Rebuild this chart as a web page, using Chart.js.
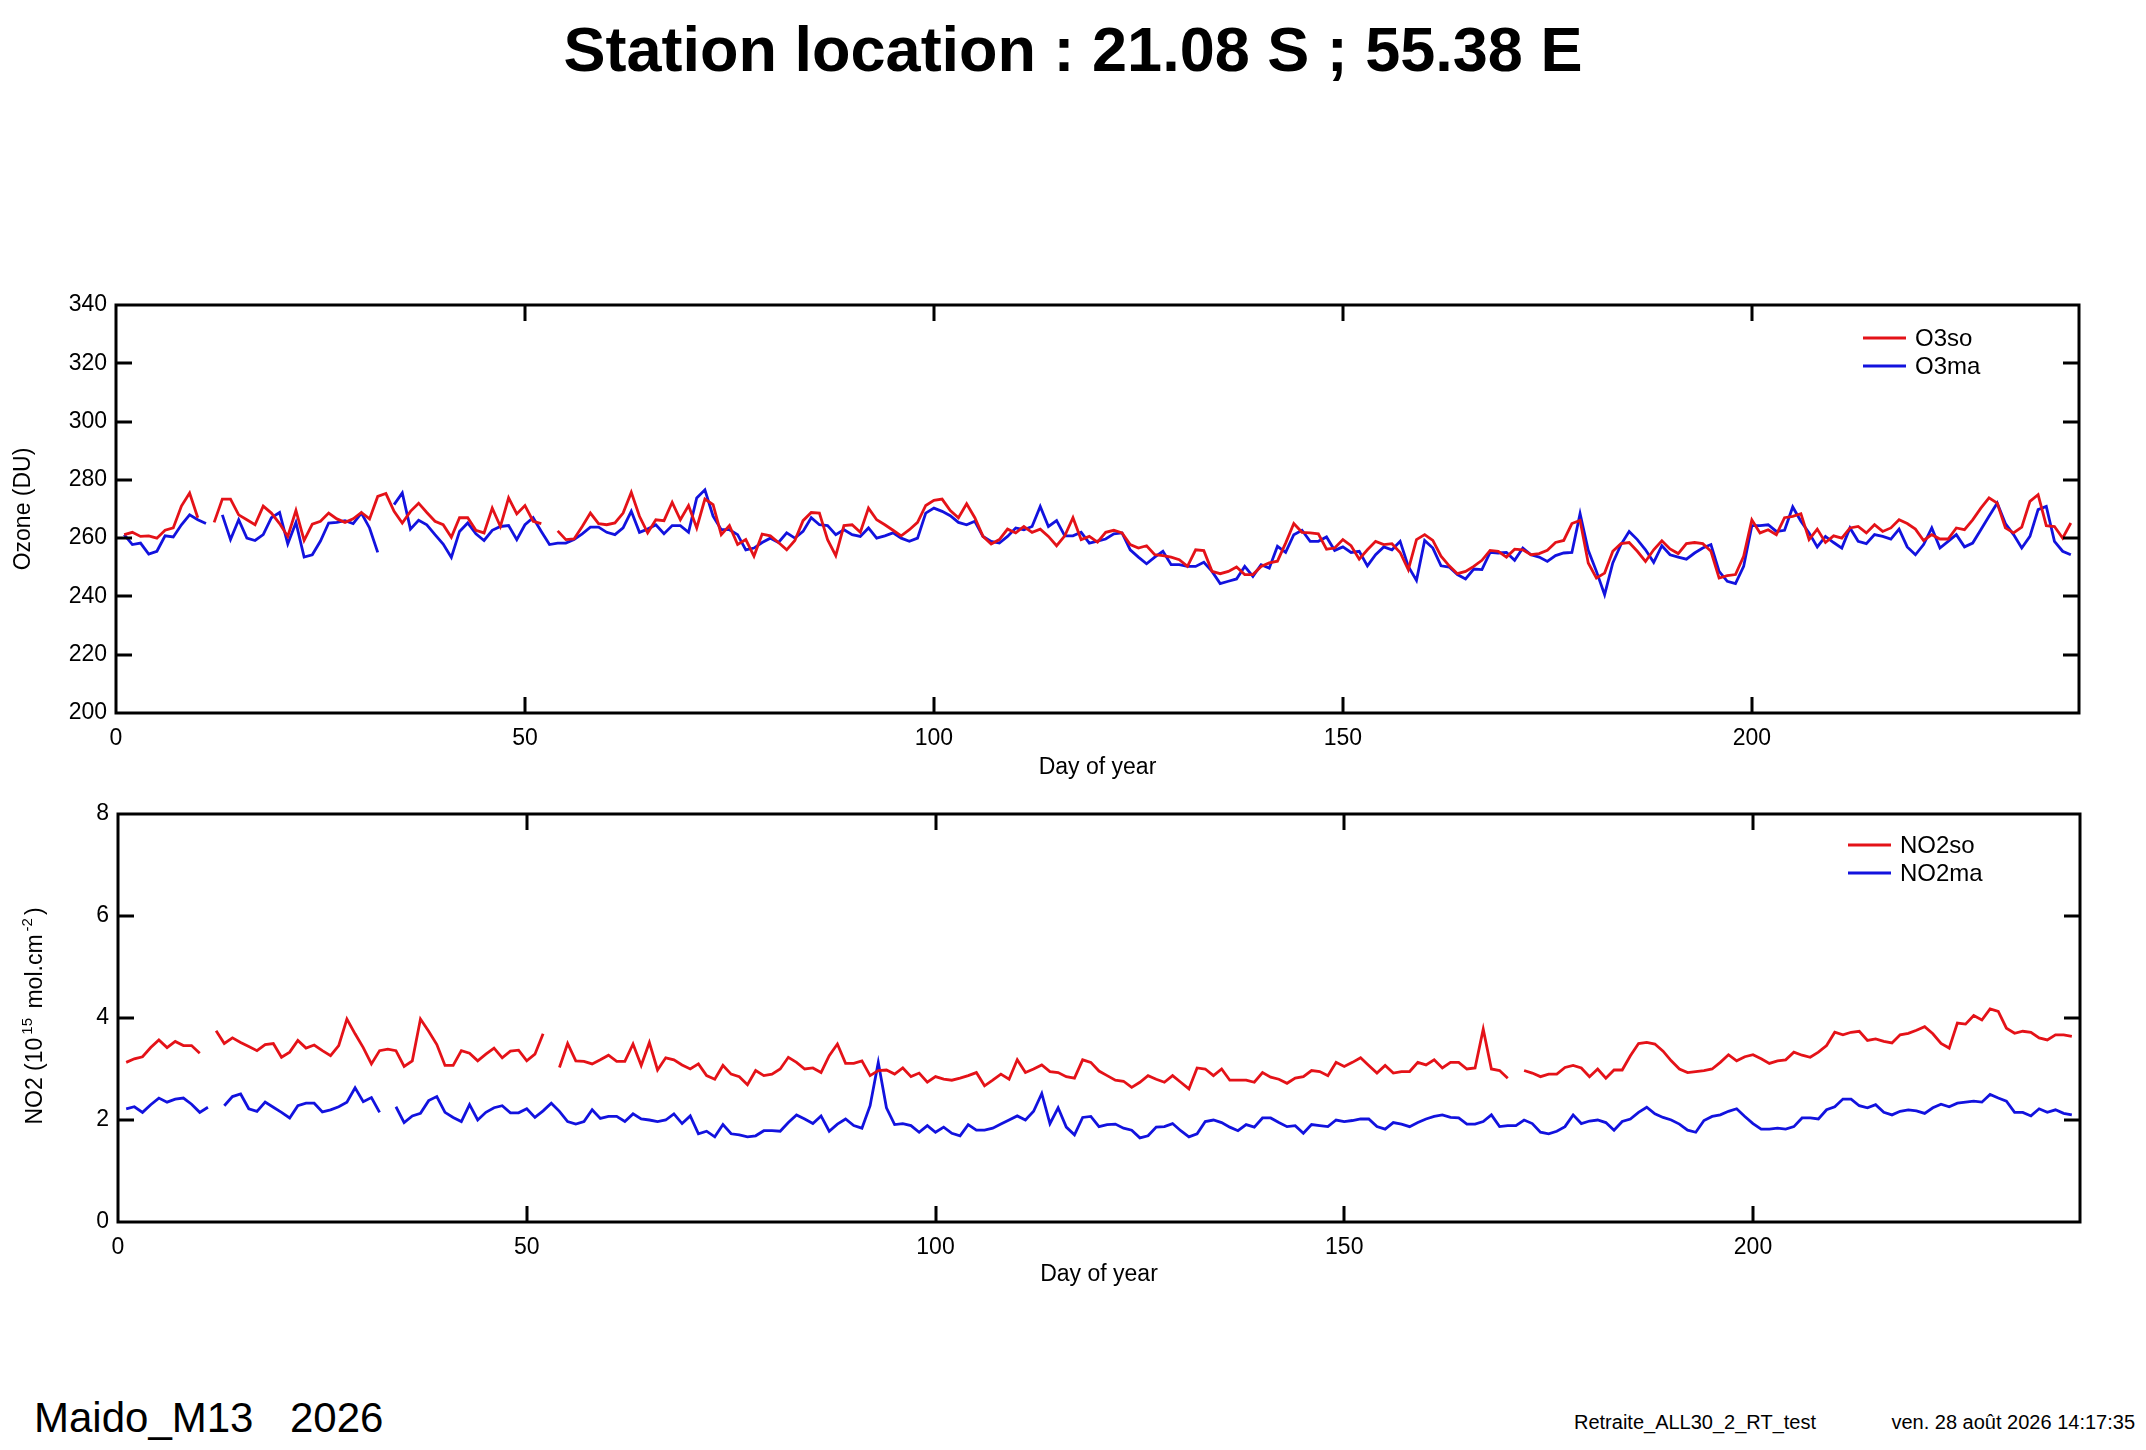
<!doctype html>
<html>
<head>
<meta charset="utf-8">
<script src="https://cdn.jsdelivr.net/npm/chart.js@4.4.0/dist/chart.umd.min.js"></script>
<style>
  body { margin:0; width:2146px; height:1450px; position:relative; background:#fff; overflow:hidden;
         font-family:"Liberation Sans", Arial, sans-serif; color:#000; }
  #title { position:absolute; left:0; top:17px; width:2146px; text-align:center; font-weight:bold;
           font-size:63px; line-height:64px; }
  canvas { position:absolute; left:0; }
  #c1 { top:280px; }
  #c2 { top:787px; }
  #no2lab { position:absolute; left:-166px; top:1002px; width:400px; height:28px; line-height:28px;
            text-align:center; font-size:23px; transform:rotate(-90deg); white-space:nowrap; }
  #no2lab sup { font-size:15px; vertical-align:10px; line-height:0; margin:0 3px; }
  .foot { position:absolute; white-space:nowrap; }
</style>
<script>
  // x values: day of year
  let days = [];
  for (let d = 1; d <= 239; d++) days.push(d);

  // total ozone (DU), null = no measurement
  let o3so = [
    261.2,262,260.6,260.8,260,262.7,263.5,271,275.5,267, null,265.4,273.4,273.4,268,266.3,264.6,271,268.6,265,
    260.6,269.5,259.2,264.8,265.8,268.6,266.6,265.4,266.6,268.8, 266.6,274.3,275.3,269.2,265.2,269.2,272,268.8,265.8,264.6,
    260.3,267,267,262.7,261.8,270.3,264,273.8,268.3,271.2, 265.8,265,null,262.5,259.5,259.7,264,268.6,265,264.6,
    265.2,268.6,275.7,267.5,261.8,266.3,266,272.3,266.3,271.2, 263.5,273.4,271.5,261.2,264.3,257.8,259.5,253.8,261.4,260.8,
    258.5,256,259.2,266,268.8,268.6,259.5,254,264.3,264.6, 262,270.3,266.3,264.6,262.7,260.8,262.9,265.4,271.2,273,
    273.4,269.5,267,271.8,267,260.6,258,259.5,263.1,261.8, 264,262,263.1,260.6,257.4,260.8,267,259.5,260.6,258.6,
    262,262.7,261.8,257.8,256.6,257.4,254.3,254,253.5,252.6, 250.3,256,255.7,248.6,247.8,248.6,250.1,247.5,247.5,250.3,
    251.5,252.1,258.3,265,262,261.8,261.5,256.2,256.6,259.5, 257.4,252.8,256,258.9,257.8,258.1,255.1,249.2,259.5,261.2,
    259.2,253.8,250.5,247.8,248.6,250.3,252.4,255.8,255.5,253.5, 256.2,256,254.3,254.7,255.8,258.5,259.2,265,266.1,251.5,
    246.3,248,255.5,258.1,258.5,255.5,252,256,259.1,256.3, 254.7,258.1,258.5,258.1,255.5,246.3,247.1,247.5,253.8,266.3,
    261.8,262.9,261.2,267,267.5,268.4,259.5,263.1,258.5,260.8, 260,263.5,264,261.8,264.6,262.3,263.5,266.3,265,263.1,
    259.2,261.2,259.7,259.7,263.5,262.9,266.3,270.3,273.8,272, 263.5,261.8,263.8,272.6,274.9,264.3,264,260,265.2
  ];
  let o3ma = [
    261.2,257.8,258.3,254.5,255.5,260.8,260.4,264.6,268,266.3, 265,null,268,259.5,266.3,260,259.2,261.2,267,268.8,
    258,265.4,253.5,254.3,259,265.2,265.4,266,265,268.6, 263.5,255.1,null,271.5,275.5,263.1,266.1,264.6,261.2,258,
    253.4,262.3,265.2,261.5,259.2,262.7,264,264.3,259.5,264.6, 267,262.3,257.8,258.3,258.3,259.5,261.5,263.8,263.8,262,
    261.2,263.5,269.2,262,263.1,264.6,261.5,264.3,264.3,262, 273.8,276.6,267.5,262.9,262.9,261.2,256,256.6,258.5,260,
    258.5,261.8,260,262.3,267,264.6,264.3,261.2,262.9,261.2, 260.6,263.5,260,260.8,261.8,260,258.9,260,268.6,270.3,
    269.2,267.7,265.4,264.6,265.8,260.6,258.9,258.3,260.6,263.5, 262.9,264,270.9,264,266,260.8,260.8,262,258.3,259,
    259.7,261.5,261.8,256,253.5,251.2,253.5,255.5,250.9,250.9, 250.3,250.3,251.7,248.6,244.4,245.2,246,250.3,246.9,250.9,
    249.7,257.2,255.1,261.2,262.7,258.9,258.9,260.4,255.8,257, 255.1,255.5,250.5,254.3,257,256,258.9,250.3,245.5,259.2,
    256.6,250.5,250.1,247.5,246,249.4,249.2,255.1,254.9,255.1, 252.4,256.6,254.3,253.5,252,254,254.9,255.1,268.4,255.8,
    248.6,240.6,251.5,257.8,262.3,259.5,256,251.7,257.4,254.3, 253.5,252.8,254.9,256.6,257.8,248.6,245.2,244.4,250.3,264.3,
    264.3,264.6,262.3,262.7,270.7,265.8,261.8,257,260.6,258.5, 256.6,263.5,258.9,258.1,261.2,260.6,259.7,263.1,257,254.3,
    257.8,263.5,256.6,258.9,261.2,257,258.3,262.9,267.5,272, 265,261.2,256.6,260.6,269.8,270.9,258.9,255.5,254.3
  ];

  // NO2 column (10^15 mol.cm-2)
  let no2so = [
    3.13,3.20,3.24,3.42,3.57,3.42,3.54,3.46,3.46,3.31, null,3.75,3.50,3.61,3.52,3.44,3.36,3.48,3.50,3.23,
    3.33,3.56,3.41,3.47,3.36,3.26,3.46,3.98,3.69,3.42, 3.10,3.36,3.39,3.36,3.05,3.16,3.98,3.74,3.48,3.07,
    3.07,3.36,3.31,3.16,3.29,3.41,3.22,3.35,3.37,3.16, 3.29,3.69,null,3.03,3.50,3.16,3.15,3.10,3.18,3.27,
    3.15,3.15,3.49,3.07,3.52,2.98,3.22,3.18,3.08,3.00, 3.10,2.87,2.80,3.07,2.90,2.85,2.69,2.97,2.87,2.90,
    3.00,3.23,3.13,3.00,3.02,2.93,3.26,3.49,3.11,3.11, 3.16,2.87,2.97,2.98,2.90,3.02,2.85,2.92,2.74,2.85,
    2.80,2.78,2.82,2.87,2.93,2.67,2.78,2.90,2.80,3.18, 2.93,3.00,3.08,2.95,2.93,2.85,2.82,3.18,3.13,2.96,
    2.87,2.78,2.76,2.64,2.74,2.87,2.80,2.74,2.87,2.74, 2.61,3.02,3.00,2.87,3.00,2.78,2.78,2.78,2.74,2.93,
    2.84,2.80,2.72,2.82,2.85,2.97,2.95,2.87,3.13,3.05, 3.13,3.22,3.07,2.92,3.07,2.92,2.95,2.95,3.13,3.08,
    3.18,3.02,3.13,3.13,3.00,3.02,3.78,3.00,2.97,2.82, null,2.97,2.92,2.85,2.90,2.90,3.03,3.07,3.02,2.85,
    3.00,2.82,2.98,2.98,3.26,3.50,3.52,3.49,3.35,3.16, 3.00,2.93,2.95,2.97,3.00,3.13,3.28,3.16,3.24,3.28,
    3.20,3.11,3.16,3.18,3.33,3.27,3.23,3.33,3.46,3.72, 3.67,3.72,3.74,3.56,3.59,3.54,3.51,3.67,3.70,3.76,
    3.83,3.69,3.50,3.41,3.90,3.88,4.05,3.96,4.18,4.13, 3.80,3.70,3.74,3.72,3.61,3.57,3.67,3.67,3.64
  ];
  let no2ma = [
    2.22,2.26,2.15,2.30,2.43,2.35,2.41,2.43,2.31,2.15, 2.25,null,2.28,2.46,2.51,2.22,2.17,2.35,2.25,2.15,
    2.04,2.28,2.33,2.33,2.16,2.20,2.26,2.35,2.63,2.36, 2.44,2.15,null,2.26,1.95,2.08,2.13,2.38,2.46,2.15,
    2.05,1.97,2.30,2.00,2.15,2.24,2.28,2.14,2.14,2.22, 2.05,2.18,2.33,2.17,1.97,1.92,1.97,2.20,2.03,2.07,
    2.07,1.97,2.12,2.02,2.00,1.97,2.00,2.12,1.93,2.08, 1.73,1.78,1.67,1.91,1.73,1.71,1.67,1.69,1.79,1.79,
    1.78,1.95,2.10,2.02,1.93,2.08,1.78,1.92,2.02,1.89, 1.84,2.28,3.13,2.24,1.91,1.93,1.89,1.76,1.89,1.76,
    1.86,1.74,1.69,1.91,1.80,1.80,1.84,1.92,2.00,2.08, 2.00,2.17,2.52,1.93,2.24,1.86,1.71,2.05,2.07,1.87,
    1.91,1.92,1.84,1.80,1.65,1.69,1.86,1.87,1.93,1.79, 1.67,1.73,1.97,2.00,1.95,1.86,1.79,1.91,1.86,2.04,
    2.04,1.95,1.87,1.89,1.74,1.91,1.89,1.87,2.00,1.97, 1.99,2.02,2.02,1.87,1.82,1.95,1.92,1.87,1.95,2.02,
    2.07,2.10,2.05,2.04,1.92,1.92,1.97,2.10,1.87,1.89, 1.89,2.00,1.93,1.76,1.73,1.78,1.87,2.10,1.93,1.98,
    2.00,1.95,1.80,1.97,2.02,2.15,2.25,2.12,2.05,2.00, 1.92,1.80,1.76,1.99,2.07,2.10,2.17,2.22,2.07,1.93,
    1.82,1.82,1.84,1.82,1.87,2.04,2.04,2.02,2.20,2.26, 2.41,2.41,2.28,2.24,2.30,2.15,2.10,2.17,2.20,2.18,
    2.13,2.24,2.31,2.26,2.33,2.35,2.37,2.35,2.50,2.43, 2.37,2.15,2.15,2.08,2.22,2.15,2.20,2.13,2.10
  ];

  let redLine = 'rgb(228,18,24)';
  let blueLine = 'rgb(18,18,222)';

  // black frame with inward ticks on all four sides + small legend top right
  let framePlugin = {
    id: 'frame',
    afterDatasetsDraw(chart, args, opts) {
      let ctx = chart.ctx, a = chart.chartArea;
      let xs = chart.scales.x, ys = chart.scales.y;
      ctx.save();
      ctx.strokeStyle = '#000';
      ctx.lineWidth = 3;
      ctx.strokeRect(a.left, a.top, a.right - a.left, a.bottom - a.top);
      ctx.beginPath();
      xs.ticks.forEach(t => {
        if (t.value <= xs.min || t.value >= xs.max) return;
        let px = Math.round(xs.getPixelForValue(t.value));
        ctx.moveTo(px, a.top); ctx.lineTo(px, a.top + 16);
        ctx.moveTo(px, a.bottom); ctx.lineTo(px, a.bottom - 16);
      });
      ys.ticks.forEach(t => {
        if (t.value <= ys.min || t.value >= ys.max) return;
        let py = Math.round(ys.getPixelForValue(t.value));
        ctx.moveTo(a.left, py); ctx.lineTo(a.left + 16, py);
        ctx.moveTo(a.right, py); ctx.lineTo(a.right - 16, py);
      });
      ctx.stroke();

      ctx.font = '24px "Liberation Sans", Arial, sans-serif';
      ctx.textBaseline = 'middle';
      ctx.textAlign = 'left';
      chart.data.datasets.forEach((ds, i) => {
        let y = a.top + opts.top + i * 28;
        let x0 = a.right - opts.right;
        ctx.strokeStyle = ds.borderColor;
        ctx.lineWidth = 3;
        ctx.beginPath(); ctx.moveTo(x0, y); ctx.lineTo(x0 + 43, y); ctx.stroke();
        ctx.fillStyle = '#000';
        ctx.fillText(ds.label, x0 + 52, y + 1);
      });
      ctx.restore();
    }
  };

  function makeChart(id, o) {
    return new Chart(document.getElementById(id), {
      type: 'line',
      data: {
        labels: days,
        datasets: [
          { label: o.names[0], data: o.red, borderColor: redLine, borderWidth: 2.8, pointRadius: 0, tension: 0, spanGaps: false },
          { label: o.names[1], data: o.blue, borderColor: blueLine, borderWidth: 2.8, pointRadius: 0, tension: 0, spanGaps: false }
        ]
      },
      options: {
        responsive: false,
        animation: false,
        devicePixelRatio: 1,
        layout: { padding: { left: 0, right: o.padRight, top: o.padTop, bottom: 0 } },
        plugins: { legend: { display: false }, tooltip: { enabled: false }, frame: { top: o.legTop, right: o.legRight } },
        scales: {
          x: {
            type: 'linear', min: 0, max: 240,
            afterBuildTicks: s => { s.ticks = s.ticks.filter(t => t.value % 50 == 0); },
            afterFit: s => { s.height = o.xHeight; },
            grid: { display: false, drawTicks: false },
            border: { display: false },
            ticks: { stepSize: 50, padding: 12, autoSkip: false, maxRotation: 0, color: '#000',
                     font: { size: 23 } },
            title: { display: true, text: 'Day of year', color: '#000', font: { size: 23 },
                     padding: { top: 0, bottom: 19 } }
          },
          y: {
            min: o.ymin, max: o.ymax,
            afterFit: s => { s.width = o.yWidth; },
            grid: { display: false, drawTicks: false },
            border: { display: false },
            ticks: { stepSize: o.ystep, padding: 9, color: '#000', font: { size: 23 } },
            title: { display: o.ytitle != '', text: o.ytitle, color: '#000', font: { size: 23 },
                     padding: { top: 10, bottom: 0 } }
          }
        }
      },
      plugins: [framePlugin]
    });
  }

  function startPage() {
    Chart.defaults.font.family = '"Liberation Sans", Arial, sans-serif';
    Chart.defaults.color = '#000';
    makeChart('c1', { names: ['O3so', 'O3ma'], red: o3so, blue: o3ma,
      ymin: 200, ymax: 340, ystep: 20, ytitle: 'Ozone (DU)',
      padTop: 25, padRight: 67, xHeight: 87, yWidth: 116, legTop: 33, legRight: 216 });
    makeChart('c2', { names: ['NO2so', 'NO2ma'], red: no2so, blue: no2ma,
      ymin: 0, ymax: 8, ystep: 2, ytitle: '',
      padTop: 27, padRight: 66, xHeight: 85, yWidth: 118, legTop: 31, legRight: 232 });
  }
</script>
</head>
<body onload="startPage()">
  <div id="title">Station location : 21.08 S ; 55.38 E</div>
  <canvas id="c1" width="2146" height="520"></canvas>
  <canvas id="c2" width="2146" height="520"></canvas>
  <div id="no2lab">NO2 (10<sup>15</sup> mol.cm<sup>-2</sup>)</div>
  <div class="foot" style="left:34px; top:1397px; font-size:42px; line-height:42px;">Maido_M13</div>
  <div class="foot" style="left:290px; top:1397px; font-size:42px; line-height:42px;">2026</div>
  <div class="foot" style="left:1574px; top:1412px; font-size:20px; line-height:20px;">Retraite_ALL30_2_RT_test</div>
  <div class="foot" style="right:11px; top:1412px; font-size:20px; line-height:20px;">ven. 28 août 2026 14:17:35</div>
</body>
</html>
